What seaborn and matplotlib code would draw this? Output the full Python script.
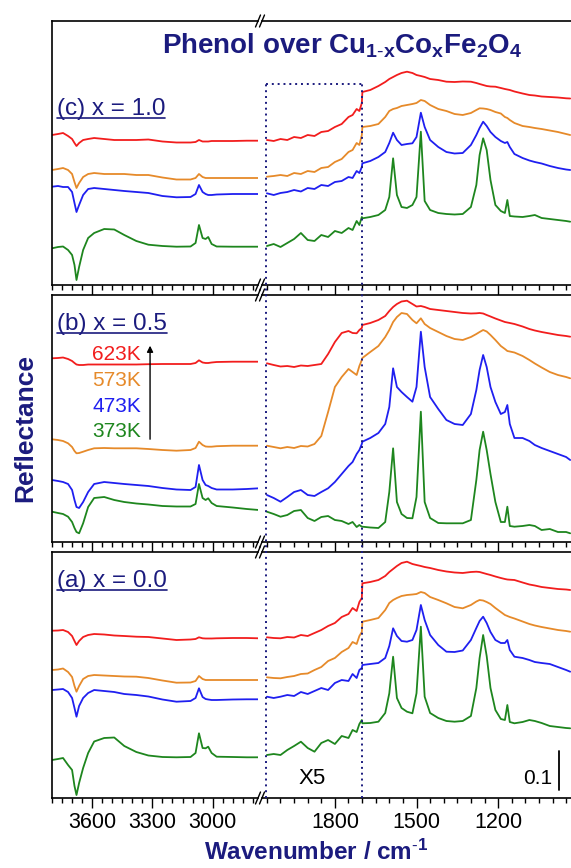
import matplotlib.pyplot as plt
import pandas as pd
import seaborn as sns
from matplotlib.lines import Line2D
from matplotlib.ticker import FixedLocator, MultipleLocator
from matplotlib.transforms import blended_transform_factory

# ---- data (heights in display units, 39 units = 0.1 reflectance) ----
TEMPS = ["623K", "573K", "473K", "373K"]
PALETTE = {"623K": "#f21d1d", "573K": "#e68a2a", "473K": "#1f1ff0", "373K": "#1e861e"}
SCALE_BAR = 39
X5_RANGE = [2055, 1700]
X5_BOX_TOP = 201

LEFT_WN = [3800, 3770, 3745, 3720, 3700, 3688, 3678, 3665, 3645, 3620, 3590, 3540, 3490, 3440, 3380,
           3320, 3250, 3180, 3110, 3085, 3068, 3050, 3035, 3022, 3005, 2980, 2900, 2830, 2770]

RIGHT_WN = [2050, 2025, 2000, 1975, 1950, 1925, 1900, 1875, 1850, 1825, 1800, 1775, 1750, 1735, 1720, 1710, 1701,
            1699, 1670, 1640, 1615, 1600, 1586, 1572, 1555, 1535, 1515, 1500, 1484, 1470, 1450, 1420, 1390,
            1360, 1330, 1300, 1280, 1268, 1255, 1242, 1228, 1210, 1190, 1175, 1166, 1157, 1140, 1110, 1085,
            1065, 1040, 1010, 980, 950, 935]

# panel (c) x = 1.0
C_LEFT_623 = [150, 151, 152, 149, 146, 142, 139, 142, 145, 146, 147, 146, 145, 145, 145, 145.5, 143.5, 142.5,
              142.5, 143, 145, 143.5, 143.5, 143.5, 144, 144, 144, 144.3, 144.3]
C_LEFT_573 = [115, 116, 117, 115, 111, 103, 97, 102, 108, 111, 112, 111, 111, 111, 110, 110, 107.5, 105.5,
              105.5, 107, 111, 108, 107, 107, 107, 107, 107, 107, 107]
C_LEFT_473 = [98.3, 99, 98, 98, 93, 82, 73, 80, 90, 96, 97, 96, 95, 94, 93, 92, 89, 87.7, 88, 91, 100, 93, 91,
              90, 90, 90.5, 91, 91, 91]
C_LEFT_373 = [36.7, 38, 38.5, 35, 30, 20, 5, 18, 35, 47, 52, 56, 55.5, 50, 44, 40.3, 39, 38.3, 38.5, 42, 60,
              47, 46, 48, 41, 38.5, 38.3, 38.3, 38.3]
C_RIGHT_623 = [145, 144, 146, 145, 148, 147, 150, 149, 153, 154, 158, 161, 168, 170, 176, 174, 182,
               193, 195, 199, 203, 206, 208, 210, 212, 213.3, 212, 210, 209, 208, 206, 205, 203.3, 203, 203.5,
               203.3, 202, 201, 200, 199, 198.5, 198.3, 197, 196, 195.5, 195, 193.5, 191.5, 190, 189.5, 188.5,
               188, 187.5, 186.7, 186.5]
C_RIGHT_573 = [108.3, 109, 110, 109, 112, 111, 114, 113, 117, 118, 123, 126, 133, 135, 142, 140, 150,
               158, 159, 161, 168, 174, 176, 177, 179, 180, 181, 182, 185, 184, 180, 176, 174, 171, 170, 172,
               175, 176.7, 176.5, 176, 175, 173, 171.5, 168, 167, 165, 162, 159, 158, 157, 156, 154.5, 153,
               151, 150]
C_RIGHT_473 = [91.7, 90, 92, 93, 95, 93.5, 97, 96, 100, 99, 103, 104, 108, 107, 114, 112, 118,
               121.7, 124, 128, 133, 142, 152.3, 145, 140, 141, 141.7, 148, 172.3, 158, 145, 138, 133, 131.5,
               132, 140, 150, 157, 163.3, 159, 153, 148, 144, 142, 143, 138, 131, 127, 124.5, 123, 121.5, 119,
               117, 115.5, 115]
C_RIGHT_373 = [39, 41, 38, 42, 46, 52, 45, 44, 50, 48, 54, 52, 57, 55, 64, 60, 68,
               66.7, 68, 70, 75, 88, 126.7, 90, 78, 77, 80, 88, 153.3, 84, 75, 72, 71, 70.5, 71, 78, 100,
               130, 146.7, 135, 105, 80, 74, 72, 85, 69, 68.5, 68, 69, 70, 67, 66, 65, 64, 63.3]

# panel (b) x = 0.5
B_LEFT_623 = [183.7, 184, 184.5, 183, 181, 179, 177.5, 177, 177, 177.5, 177.5, 177.5, 177.5, 177.5, 177.5,
              177.8, 178, 178, 178, 179, 181.7, 179.5, 179, 179, 179.5, 180, 180.3, 180.3, 180.3]
B_LEFT_573 = [102.7, 102, 101, 98.7, 95, 91, 88.7, 89, 90.3, 92, 93.7, 94, 93.7, 93.7, 93.7, 93, 92, 91.3,
              92, 94, 100.3, 97, 95.5, 95.3, 95.3, 95.8, 96.3, 96.3, 96.3]
B_LEFT_473 = [62, 61, 60, 58, 52, 42, 35, 34, 40, 50, 58, 60, 59, 58, 57, 56, 54, 52.5, 52, 55, 77, 62, 57,
              56, 54, 52.5, 52.5, 53, 53.7]
B_LEFT_373 = [30.3, 29, 28, 25.3, 20, 14, 10, 8.7, 18.7, 35, 44, 45, 42, 40, 38.5, 37.5, 36, 35.5, 35.5, 38,
              58, 44, 42, 43.7, 39, 36, 34.5, 33, 32]
B_RIGHT_623 = [178.7, 177, 175.5, 176, 175, 176.5, 176, 177, 178, 188, 200, 209, 211, 209, 208.7, 212, 214,
               217, 219, 222, 226, 231, 235, 238, 240.5, 241.3, 238, 235.5, 236, 235, 233, 232, 231, 230, 229,
               228.5, 228.7, 229, 228.5, 227, 225.5, 223.5, 221.5, 220, 219.5, 219, 218, 215.5, 213, 211.5,
               210, 208.5, 207, 206, 205.3]
B_RIGHT_573 = [96.3, 95, 93.7, 95, 94, 96, 95.5, 98, 106, 130, 155, 165, 173, 170, 167, 176, 182,
               184, 190, 196, 205, 212, 220, 225, 229, 228, 222, 218.7, 223.7, 218, 214, 210, 206, 203, 202,
               205, 208, 210, 212, 210.5, 207, 202, 196, 193, 191, 190.5, 189.5, 186, 182, 178.5, 174.5, 170,
               167, 165, 163.7]
B_RIGHT_473 = [47, 44, 40.3, 45, 50, 52, 47, 46, 50, 53.7, 60, 68, 76, 80, 88, 92, 98,
               100.3, 104, 109, 118, 135, 173.7, 155, 150, 145, 140.3, 155, 210.3, 175, 145, 133, 122, 118,
               117, 128, 152, 172, 187, 175, 155, 140, 128, 130, 137, 118, 104, 104, 101, 97, 94, 91, 88, 85, 82]
B_RIGHT_373 = [30.3, 28, 25.3, 27, 31, 32, 24, 21, 25, 26, 22, 21, 18, 20, 15, 17, 15.3,
               15.3, 14.5, 14, 20, 50, 93.7, 40, 28, 24, 23.7, 45, 130.3, 40, 24, 19, 18.7, 18.7, 18.7, 22, 62,
               92, 110.3, 92, 68, 40, 20, 20, 35.3, 16, 15.3, 16, 17, 16, 12, 13, 10, 10, 8.7]

# panel (a) x = 0.0
A_LEFT_623 = [167.3, 167.5, 168, 166, 162, 157, 153, 157, 161, 163, 164, 163.5, 162.5, 162, 161.3, 161,
              159.5, 158, 158.5, 159, 160.7, 159.7, 159.5, 159.5, 159.5, 159.7, 160, 160, 159.7]
A_LEFT_573 = [128, 128.5, 129.5, 126, 121, 112, 106.3, 112, 119, 122, 123, 122.5, 122, 121.5, 121.3, 120,
              117.5, 115.3, 115.5, 117, 122, 119, 118, 118, 118, 118, 118, 118, 118]
A_LEFT_473 = [108, 108.5, 109, 106, 100, 90, 81.3, 92, 100, 105, 108, 107, 106, 104, 103, 101.5, 98.5, 96.3,
              97, 100, 109.7, 101, 99, 98.5, 98, 98, 98.5, 98.7, 98.7]
A_LEFT_373 = [38, 39, 40, 33, 28, 12, 3, 15, 30, 45, 56.5, 60, 60.5, 52, 46, 42.5, 41, 40.7, 41, 45, 64.7,
              50, 49.7, 51.3, 45, 41.3, 41, 40.7, 40.7]
A_RIGHT_623 = [160.7, 160, 159.7, 161, 160.5, 163, 162, 165, 168, 172, 175, 181, 184, 190, 187, 196, 200,
               214.7, 216, 218, 222, 226, 229, 232, 235, 236.3, 234, 233, 232, 231, 230, 228, 226.5, 225.5,
               225, 226, 226.3, 226, 225, 224, 223, 221.5, 220, 219, 218.5, 218.3, 218, 215.5, 213.5, 212.5,
               211, 210, 209, 208.5, 208]
A_RIGHT_573 = [120.7, 120, 119.7, 121, 122, 124, 124.5, 128, 131, 137, 140, 146, 150, 156, 154, 162, 166,
               176.3, 178, 180, 188, 195, 198, 200, 202, 203, 203.5, 204, 206, 205, 201, 198, 194.7, 191,
               189.7, 193, 196.5, 198, 197.5, 196, 194, 190, 186, 183, 182, 181, 179.5, 176.5, 174, 172.5,
               171, 169.5, 168, 167, 166.3]
A_RIGHT_473 = [101.3, 100, 101.3, 103, 102, 106, 104, 107, 110, 108, 115, 118, 117, 124, 120, 128, 130,
               133, 134, 135, 140, 152, 169.7, 162, 157, 156.3, 158, 168, 193, 178, 163, 153, 146.3, 146,
               147.5, 158, 170, 177, 181.3, 175, 166, 158, 155, 155, 158, 148, 141.3, 140, 138, 136, 135, 134,
               131, 128, 126.3]
A_RIGHT_373 = [43, 44, 43, 48, 52, 56.3, 50, 46.3, 55, 58, 54, 62, 60, 68, 66, 74, 78,
               74.7, 75, 76.3, 85, 104.7, 141.3, 100, 90, 86.3, 84.7, 104.7, 171.3, 101.3, 85, 80, 77, 76.3,
               77, 82, 110, 140, 163, 142, 110, 88, 79, 78, 93, 76, 74.7, 76, 78, 77, 75, 72, 71, 70, 69.7]

NAVY = "#1b1b7e"
W, H = 571, 868
LEFT_SPAN = (52, 258)
RIGHT_SPAN = (262, 571)
ROWS = [(21, 285), (295, 542), (552, 798)]


def long_frame(wn, curves):
    parts = [pd.DataFrame({"wn": wn, "h": vals, "temp": t}) for t, vals in zip(TEMPS, curves)]
    return pd.concat(parts, ignore_index=True)


def box(span, row):
    return [span[0] / W, 1 - row[1] / H, (span[1] - span[0]) / W, (row[1] - row[0]) / H]


sns.set_theme(style="ticks", rc={"axes.edgecolor": "black", "xtick.color": "black", "text.color": "black"})
plt.rcParams["font.family"] = ["Liberation Sans", "DejaVu Sans"]
plt.rcParams["mathtext.fontset"] = "custom"
plt.rcParams["mathtext.rm"] = "Liberation Sans"
plt.rcParams["mathtext.bf"] = "Liberation Sans:bold"
plt.rcParams["mathtext.it"] = "Liberation Sans:italic"

fig = plt.figure(figsize=(W / 100, H / 100), dpi=100)

panels = [
    ("(c) x = 1.0", [C_LEFT_623, C_LEFT_573, C_LEFT_473, C_LEFT_373],
     [C_RIGHT_623, C_RIGHT_573, C_RIGHT_473, C_RIGHT_373], 0.644),
    ("(b) x = 0.5", [B_LEFT_623, B_LEFT_573, B_LEFT_473, B_LEFT_373],
     [B_RIGHT_623, B_RIGHT_573, B_RIGHT_473, B_RIGHT_373], 0.858),
    ("(a) x = 0.0", [A_LEFT_623, A_LEFT_573, A_LEFT_473, A_LEFT_373],
     [A_RIGHT_623, A_RIGHT_573, A_RIGHT_473, A_RIGHT_373], 0.859),
]

axes_pairs = []
labels = []
for i, (row, (label, left_curves, right_curves, label_y)) in enumerate(zip(ROWS, panels)):
    ax_l = fig.add_axes(box(LEFT_SPAN, row))
    ax_r = fig.add_axes(box(RIGHT_SPAN, row))
    height = row[1] - row[0]

    sns.lineplot(data=long_frame(LEFT_WN, left_curves), x="wn", y="h", hue="temp", hue_order=TEMPS,
                 palette=PALETTE, estimator=None, sort=False, legend=False, linewidth=1.3, ax=ax_l)
    sns.lineplot(data=long_frame(RIGHT_WN, right_curves), x="wn", y="h", hue="temp", hue_order=TEMPS,
                 palette=PALETTE, estimator=None, sort=False, legend=False, linewidth=1.3, ax=ax_r)

    ax_l.set_xlim(3800, 2774)
    ax_r.set_xlim(2068, 932)
    ax_l.xaxis.set_major_locator(FixedLocator([3600, 3300, 3000]))
    ax_r.xaxis.set_major_locator(FixedLocator([1800, 1500, 1200]))
    for ax in (ax_l, ax_r):
        ax.set_ylim(0, height)
        ax.set_yticks([])
        ax.set_xlabel("")
        ax.set_ylabel("")
        ax.xaxis.set_minor_locator(MultipleLocator(50))
        ax.tick_params(axis="x", which="major", direction="out", length=7.2, width=1.0,
                       labelsize=15.5, pad=3, labelbottom=(i == 2))
        ax.tick_params(axis="x", which="minor", direction="out", length=3.6, width=1.0)
        for sp in ax.spines.values():
            sp.set_linewidth(1.2)
    ax_l.spines["right"].set_visible(False)
    ax_r.spines["left"].set_visible(False)
    ax_r.spines["right"].set_visible(False)

    t = ax_l.text(0.024, label_y, label, transform=ax_l.transAxes, fontsize=17.5, color=NAVY,
                  ha="left", va="baseline")
    labels.append((ax_l, t, label_y))
    axes_pairs.append((ax_l, ax_r))

# temperature key with arrow in panel (b)
ax_b = axes_pairs[1][0]
for temp, ypos in zip(TEMPS, [0.737, 0.630, 0.527, 0.424]):
    ax_b.text(0.432, ypos, temp, transform=ax_b.transAxes, fontsize=15, color=PALETTE[temp],
              ha="right", va="baseline")
ax_b.annotate("", xy=(0.476, 0.806), xytext=(0.476, 0.405), xycoords="axes fraction",
              arrowprops=dict(arrowstyle="-|>", color="black", lw=1.0, mutation_scale=9))

# X5 note and scale bar in panel (a)
ax_ra = axes_pairs[2][1]
ax_ra.text(0.162, 0.057, "X5", transform=ax_ra.transAxes, fontsize=16, ha="center", va="baseline")
ax_ra.text(0.939, 0.057, "0.1", transform=ax_ra.transAxes, fontsize=15, ha="right", va="baseline")
bar_tr = blended_transform_factory(ax_ra.transAxes, ax_ra.transData)
ax_ra.plot([0.961, 0.961], [8, 8 + SCALE_BAR], transform=bar_tr, color="black", lw=1.3, clip_on=False)

# dotted X5 box spanning all panels
ax_rc = axes_pairs[0][1]
ax_rc.plot(X5_RANGE, [X5_BOX_TOP, X5_BOX_TOP], color=NAVY, lw=1.4, ls=(0, (1, 2)), clip_on=False)
top_disp = ax_rc.transData.transform((X5_RANGE[0], X5_BOX_TOP))
top_fig = fig.transFigure.inverted().transform(top_disp)[1]
bottom_fig = ax_ra.get_position().y0
vtr = blended_transform_factory(ax_rc.transData, fig.transFigure)
for xv in X5_RANGE:
    fig.add_artist(Line2D([xv, xv], [bottom_fig, top_fig], transform=vtr, color=NAVY, lw=1.4,
                          ls=(0, (1, 2))))

# axis break marks
for ax_l, ax_r in axes_pairs:
    for ax, use_right in ((ax_l, True), (ax_r, False)):
        pos = ax.get_position()
        xe = pos.x1 if use_right else pos.x0
        for ye in (pos.y0, pos.y1):
            fig.add_artist(Line2D([xe - 2.5 / W, xe + 2.5 / W], [ye - 6 / H, ye + 6 / H],
                                  transform=fig.transFigure, color="black", lw=1.0))

# title and axis labels
fig.text(162 / W, 1 - 54 / H,
         r"$\mathbf{Phenol\ over\ Cu_{1\text{-}x}Co_{x}Fe_{2}O_{4}}$",
         fontsize=20, color=NAVY, ha="left", va="baseline")
fig.text(25 / W, 1 - 428 / H, "Reflectance", rotation=90, fontsize=19, fontweight="bold",
         color=NAVY, ha="center", va="center")
fig.text(316 / W, 1 - 860 / H, r"Wavenumber / cm$^{\mathbf{\text{-}1}}$", fontsize=17.5,
         fontweight="bold", color=NAVY, ha="center", va="baseline")

# underline the panel labels
fig.canvas.draw()
renderer = fig.canvas.get_renderer()
for ax_l, t, label_y in labels:
    bb = t.get_window_extent(renderer)
    base = ax_l.transAxes.transform((0.024, label_y))[1] - 3
    fig.add_artist(Line2D([bb.x0 / W, bb.x1 / W], [base / H, base / H], transform=fig.transFigure,
                          color=NAVY, lw=1.2))

fig.savefig("out.png", dpi=100)
plt.close(fig)
